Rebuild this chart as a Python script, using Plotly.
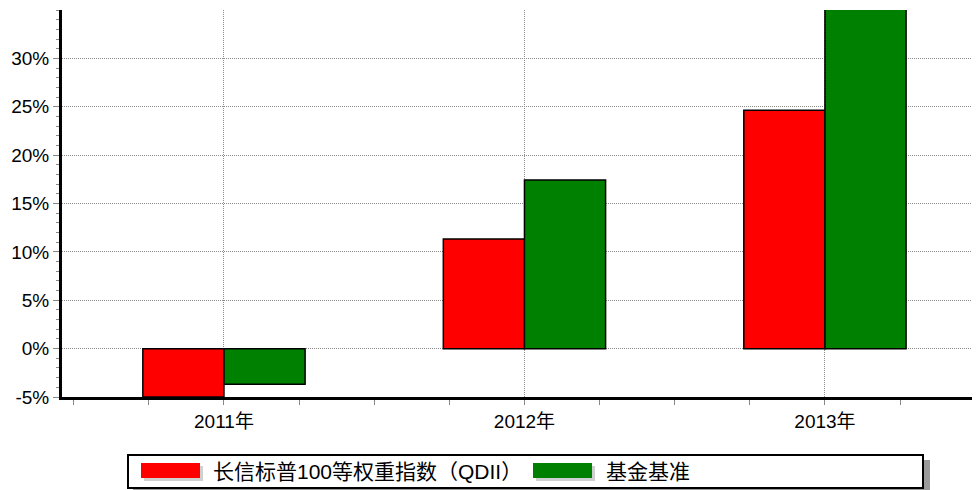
import plotly.graph_objects as go

categories = ["2011年", "2012年", "2013年"]
fund_values = [-5.0, 11.33, 24.63]
bench_values = [-3.69, 17.43, 36.0]
series_names = ["长信标普100等权重指数（QDII）", "基金基准"]
series_colors = ["#ff0000", "#008000"]
y_tick_vals = [-5, 0, 5, 10, 15, 20, 25, 30]
y_tick_text = [f"{v}%" for v in y_tick_vals]

xpos = list(range(len(categories)))
FONT = "Liberation Sans, Arial, Noto Sans CJK SC, sans-serif"

# page body has an 8px margin; work in window pixels and shift
OFF = 8
FIG_W, FIG_H = 980 - OFF, 490 - OFF
# plot area in window pixels
L, R, T, B = 62, 980, 10, 397
W, H = R - L, B - T


def px(x):
    return (x - L) / W


def py(y):
    return (B - y) / H


fig = go.Figure()
fig.add_trace(go.Bar(x=xpos, y=fund_values, name=series_names[0], width=0.27, offset=-0.27,
                     marker=dict(color=series_colors[0], line=dict(color="black", width=1.5))))
fig.add_trace(go.Bar(x=xpos, y=bench_values, name=series_names[1], width=0.27, offset=0,
                     marker=dict(color=series_colors[1], line=dict(color="black", width=1.5))))

grid_dash = "1px,1px"
fig.update_layout(
    width=FIG_W, height=FIG_H,
    margin=dict(l=L - OFF, r=0, t=T - OFF, b=FIG_H - (B - OFF), autoexpand=False),
    plot_bgcolor="white", paper_bgcolor="white",
    font=dict(family=FONT, size=19, color="black"),
    showlegend=False,
    xaxis=dict(range=[-0.539, 2.516], tickvals=xpos, ticktext=categories,
               showgrid=True, gridcolor="#8c8c8c", griddash=grid_dash, gridwidth=1,
               zeroline=False, showline=True, linecolor="black", linewidth=3,
               ticks="outside", ticklen=5, tickcolor="#888888",
               minor=dict(dtick=0.25, tick0=0, ticks="outside", ticklen=5, tickcolor="#888888", showgrid=False),
               tickfont=dict(size=19)),
    yaxis=dict(range=[-5, 35], tickvals=y_tick_vals, ticktext=y_tick_text,
               showgrid=True, gridcolor="#8c8c8c", griddash=grid_dash, gridwidth=1,
               zeroline=False, showline=True, linecolor="black", linewidth=3,
               ticks="outside", ticklen=6, tickcolor="#888888",
               minor=dict(dtick=1, tick0=0, ticks="outside", ticklen=3, tickcolor="#888888", showgrid=False),
               tickfont=dict(size=19)),
)

# manual legend box with shadow
fig.add_shape(type="rect", xref="paper", yref="paper",
              x0=px(133), x1=px(930), y0=py(491), y1=py(460),
              fillcolor="#9a9a9a", line=dict(width=0), layer="above")
fig.add_shape(type="rect", xref="paper", yref="paper",
              x0=px(128), x1=px(923), y0=py(488), y1=py(455),
              fillcolor="white", line=dict(color="black", width=2), layer="above")

swatch_x = [141, 533]
text_x = [211, 604]
for i, name in enumerate(series_names):
    x0 = swatch_x[i]
    fig.add_shape(type="rect", xref="paper", yref="paper",
                  x0=px(x0 + 3), x1=px(x0 + 62), y0=py(481), y1=py(466),
                  fillcolor="#d0d0d0", line=dict(width=0), layer="above")
    fig.add_shape(type="rect", xref="paper", yref="paper",
                  x0=px(x0), x1=px(x0 + 59), y0=py(478), y1=py(463),
                  fillcolor=series_colors[i], line=dict(width=0), layer="above")
    fig.add_annotation(xref="paper", yref="paper", x=px(text_x[i]), y=py(471),
                       xanchor="left", yanchor="middle", text=name, showarrow=False,
                       font=dict(size=21, family=FONT, color="black"))

fig.write_html("out.html")
